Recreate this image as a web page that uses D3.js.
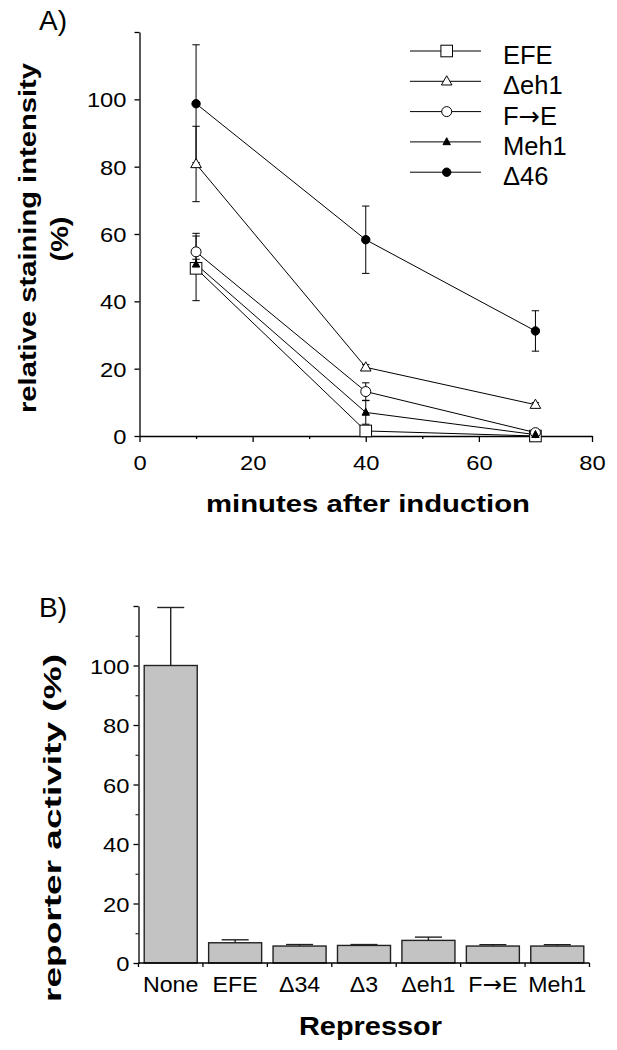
<!DOCTYPE html>
<html><head><meta charset="utf-8">
<script src="https://cdn.jsdelivr.net/npm/d3@7"></script>
<style>
html,body{margin:0;padding:0;background:#fff;}
text{font-family:"Liberation Sans",Arial,Helvetica,sans-serif;fill:#000;}
</style></head>
<body>
<svg id="chart" width="617" height="1050"></svg>
<script>
// ---------- data ----------
const times = [10, 40, 70];
const seriesNames = ["EFE", "\u0394eh1", "F\u2192E", "Meh1", "\u039446"];
const efeVals   = [49.8, 1.5, 0];
const efeErr    = [9.6, 0, 0];
const deh1Vals  = [80.8, 20.4, 9.3];
const deh1Err   = [11.2, 0.8, 0.6];
const feVals    = [54.7, 13.2, 1.0];
const feErr     = [5.5, 2.6, 0.4];
const meh1Vals  = [51.0, 7.0, 0.4];
const meh1Err   = [1.5, 3.5, 0.3];
const d46Vals   = [98.7, 58.3, 31.2];
const d46Err    = [17.5, 10.0, 6.0];
const xTicksA   = [0, 20, 40, 60, 80];
const xMinorA   = [10, 30, 50, 70];
const yTicksA   = [0, 20, 40, 60, 80, 100, 120];

const repressors = ["None", "EFE", "\u039434", "\u03943", "\u0394eh1", "F\u2192E", "Meh1"];
const activity   = [100, 6.8, 5.7, 5.9, 7.6, 5.7, 5.7];
const activityErr= [19.5, 1.0, 0.5, 0.3, 1.1, 0.45, 0.45];
const yTicksB    = [0, 20, 40, 60, 80, 100, 120];
const yMinorB    = [10, 30, 50, 70, 90, 110];

// ---------- helpers ----------
const svg = d3.select("#chart");
function stretch(sel, f){
  sel.each(function(){
    const w = this.getComputedTextLength();
    d3.select(this).attr("textLength", w*f).attr("lengthAdjust","spacingAndGlyphs");
  });
}
function fit(sel, len){ sel.attr("textLength", len).attr("lengthAdjust","spacingAndGlyphs"); }
// write a label, drawing the arrow glyph with a font that has a full-size arrow
function label(sel, str){
  sel.text(null);
  const parts = str.split("\u2192");
  parts.forEach((p, i) => {
    if (i > 0) sel.append("tspan").attr("font-family", "DejaVu Sans").text("\u2192");
    if (p) sel.append("tspan").text(p);
  });
}

// ================= Panel A =================
const xA = d3.scaleLinear().domain([0, 80]).range([139.5, 592]);
const yA = d3.scaleLinear().domain([0, 120]).range([436, 32]);

svg.append("text").attr("x", 39).attr("y", 30).attr("font-size", 28).text("A)");

// axes
const gxA = svg.append("g").attr("transform", `translate(0,${yA(0)})`)
  .call(d3.axisBottom(xA).tickValues(xTicksA).tickSize(6).tickSizeOuter(0).tickFormat(d3.format("d")));
svg.append("g").attr("transform", `translate(0,${yA(0)})`)
  .call(d3.axisBottom(xA).tickValues(xMinorA).tickSize(3).tickSizeOuter(0).tickFormat(""))
  .select(".domain").remove();
const gyA = svg.append("g").attr("transform", `translate(${xA(0)},0)`)
  .call(d3.axisLeft(yA).tickValues(yTicksA).tickSize(5).tickSizeOuter(0)
        .tickFormat(d => d === 120 ? "" : d));
[gxA, gyA].forEach(g => {
  g.selectAll("path,line").attr("stroke", "#000").attr("stroke-width", 1.3);
  g.selectAll("text").attr("font-size", 21).attr("font-family", null).attr("fill", "#000");
});
gxA.selectAll("text").attr("y", 34).attr("dy", 0);
gyA.selectAll("text").attr("x", -13).attr("dy", "0.36em");
stretch(gxA.selectAll("text"), 1.13);
stretch(gyA.selectAll("text"), 1.13);
svg.selectAll("g.tick line").attr("stroke", "#000").attr("stroke-width", 1.3);

// titles
const tA = svg.append("text").attr("x", 368).attr("y", 512).attr("text-anchor", "middle")
  .attr("font-size", 24).attr("font-weight", "bold").text("minutes after induction");
fit(tA, 324);
const yt1 = svg.append("text").attr("transform", "translate(36,238) rotate(-90)")
  .attr("text-anchor", "middle").attr("font-size", 24).attr("font-weight", "bold")
  .text("relative staining intensity");
fit(yt1, 350);
const yt2 = svg.append("text").attr("transform", "translate(68,239) rotate(-90)")
  .attr("text-anchor", "middle").attr("font-size", 24).attr("font-weight", "bold").text("(%)");
fit(yt2, 45);

// series
const series = [
  {name: seriesNames[0], vals: efeVals,  err: efeErr,  shape: "square",   fill: "#fff"},
  {name: seriesNames[1], vals: deh1Vals, err: deh1Err, shape: "triangle", fill: "#fff"},
  {name: seriesNames[2], vals: feVals,   err: feErr,   shape: "circle",   fill: "#fff"},
  {name: seriesNames[3], vals: meh1Vals, err: meh1Err, shape: "triangle", fill: "#000", small: true},
  {name: seriesNames[4], vals: d46Vals,  err: d46Err,  shape: "circle",   fill: "#000", small: true}
];
function marker(g, s, cx, cy){
  if (s.shape === "square") {
    g.append("rect").attr("x", cx-5.8).attr("y", cy-5.8).attr("width", 11.6).attr("height", 11.6)
      .attr("fill", s.fill).attr("stroke", "#000").attr("stroke-width", 1);
  } else if (s.shape === "circle") {
    const r = s.small ? 4.2 : 5;
    g.append("circle").attr("cx", cx).attr("cy", cy).attr("r", r)
      .attr("fill", s.fill).attr("stroke", "#000").attr("stroke-width", 1);
  } else {
    const w = s.small ? 7.4 : 10.6, h = s.small ? 7 : 9.2;
    g.append("path").attr("d", `M${cx},${cy-h*0.6}L${cx+w/2},${cy+h*0.4}L${cx-w/2},${cy+h*0.4}Z`)
      .attr("fill", s.fill).attr("stroke", "#000").attr("stroke-width", 1);
  }
}
const plot = svg.append("g");
const line = d3.line().x((d,i) => xA(times[i])).y(d => yA(d));
// error bars
series.forEach(s => {
  s.vals.forEach((v,i) => {
    if (!s.err[i]) return;
    const cx = xA(times[i]);
    const y1 = yA(v + s.err[i]), y2 = yA(Math.max(v - s.err[i], 0));
    plot.append("line").attr("x1", cx).attr("x2", cx).attr("y1", y1).attr("y2", y2)
      .attr("stroke", "#000").attr("stroke-width", 1);
    [y1, y2].forEach(yy => plot.append("line").attr("x1", cx-3.7).attr("x2", cx+3.7)
      .attr("y1", yy).attr("y2", yy).attr("stroke", "#000").attr("stroke-width", 1));
  });
});
series.forEach(s => {
  plot.append("path").attr("d", line(s.vals)).attr("fill", "none")
    .attr("stroke", "#000").attr("stroke-width", 1);
});
series.forEach(s => s.vals.forEach((v,i) => marker(plot, s, xA(times[i]), yA(v))));

// legend
const leg = svg.append("g");
series.forEach((s, i) => {
  const ly = 51 + i*30.3;
  leg.append("line").attr("x1", 410).attr("x2", 481).attr("y1", ly).attr("y2", ly)
    .attr("stroke", "#000").attr("stroke-width", 1);
  marker(leg, s, 446.7, ly);
  const t = leg.append("text").attr("x", 503).attr("y", ly + 13).attr("font-size", 25.5);
  label(t, s.name);
});

// ================= Panel B =================
const xB = d3.scaleBand().domain(repressors).range([138.5, 589.5]).paddingInner(0.177).paddingOuter(0.0885);
const yB = d3.scaleLinear().domain([0, 120]).range([963, 606]);

svg.append("text").attr("x", 39).attr("y", 617).attr("font-size", 28).text("B)");

const gyB = svg.append("g").attr("transform", `translate(138.5,0)`)
  .call(d3.axisLeft(yB).tickValues(yTicksB).tickSize(5).tickSizeOuter(0)
        .tickFormat(d => d === 120 ? "" : d));
svg.append("g").attr("transform", `translate(138.5,0)`)
  .call(d3.axisLeft(yB).tickValues(yMinorB).tickSize(3).tickSizeOuter(0).tickFormat(""))
  .select(".domain").remove();
gyB.selectAll("path,line").attr("stroke", "#000").attr("stroke-width", 1.3);
gyB.selectAll("text").attr("font-size", 21).attr("font-family", null).attr("x", -9).attr("dy", "0.36em");
stretch(gyB.selectAll("text"), 1.13);

// bars
const step = xB.step();
svg.append("g").selectAll("rect").data(repressors).join("rect")
  .attr("x", d => xB(d)).attr("width", xB.bandwidth())
  .attr("y", (d,i) => yB(activity[i])).attr("height", (d,i) => yB(0) - yB(activity[i]))
  .attr("fill", "#c3c3c3").attr("stroke", "#222").attr("stroke-width", 1.4);
// error bars (upper only)
const eb = svg.append("g");
repressors.forEach((d,i) => {
  const cx = xB(d) + xB.bandwidth()/2;
  const y1 = yB(activity[i] + activityErr[i]), y0 = yB(activity[i]);
  eb.append("line").attr("x1", cx).attr("x2", cx).attr("y1", y1).attr("y2", y0)
    .attr("stroke", "#222").attr("stroke-width", 1.4);
  eb.append("line").attr("x1", cx-13.5).attr("x2", cx+13.5).attr("y1", y1).attr("y2", y1)
    .attr("stroke", "#222").attr("stroke-width", 1.4);
});
// x axis
const gxB = svg.append("g");
gxB.append("line").attr("x1", 138.5).attr("x2", 589.5).attr("y1", yB(0)).attr("y2", yB(0))
  .attr("stroke", "#000").attr("stroke-width", 1.3);
const bounds = repressors.map(d => xB(d) - step*xB.paddingInner()/2).concat([589.5]);
bounds.forEach(bx => gxB.append("line").attr("x1", bx).attr("x2", bx)
  .attr("y1", yB(0)).attr("y2", yB(0) + 4).attr("stroke", "#000").attr("stroke-width", 1.3));
const catLabels = gxB.selectAll("text.cat").data(repressors).join("text").attr("class", "cat")
  .attr("x", d => xB(d) + xB.bandwidth()/2).attr("y", yB(0) + 29)
  .attr("text-anchor", "middle").attr("font-size", 22.5)
  .each(function(d){ label(d3.select(this), d); });
stretch(catLabels, 1.03);

const tB = svg.append("text").attr("x", 370.5).attr("y", 1035).attr("text-anchor", "middle")
  .attr("font-size", 26).attr("font-weight", "bold").text("Repressor");
fit(tB, 143);
const ytB = svg.append("text").attr("transform", "translate(61,828) rotate(-90)")
  .attr("text-anchor", "middle").attr("font-size", 24).attr("font-weight", "bold")
  .text("reporter activity (%)");
fit(ytB, 348);
</script>
</body></html>
